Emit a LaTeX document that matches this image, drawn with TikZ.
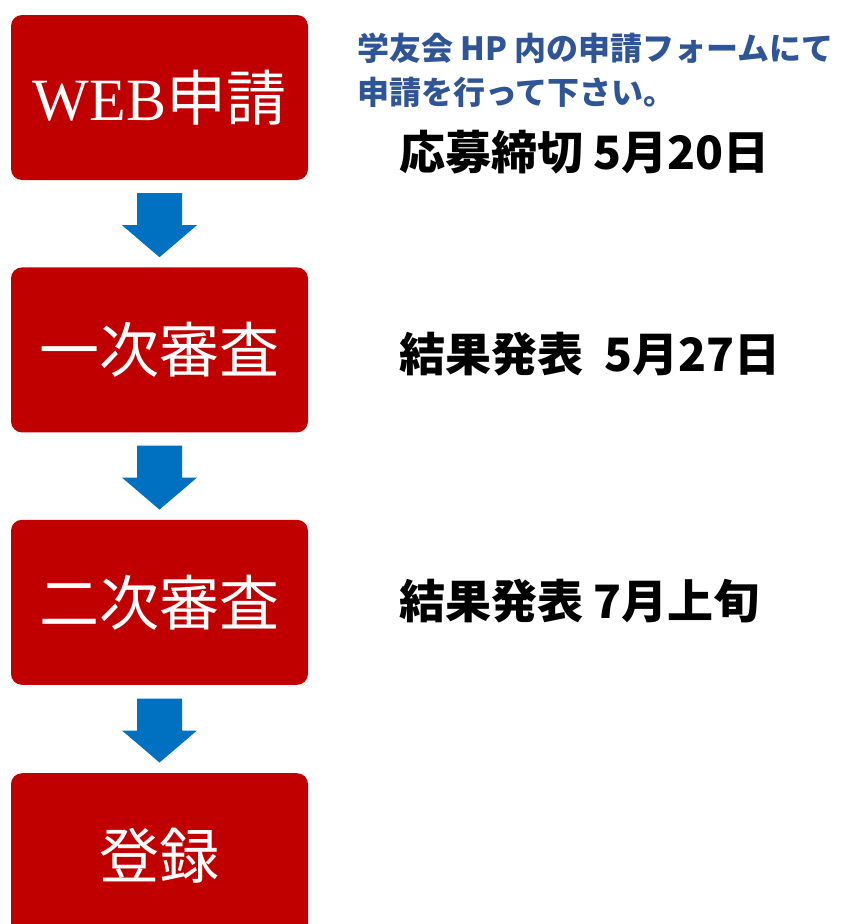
\documentclass[tikz,border=0pt]{standalone}
\usepackage{fontspec}
\newfontfamily\jpfont{Noto Sans CJK JP}
\newfontfamily\serifwest{Liberation Serif}
\usepackage{tikz}
\usetikzlibrary{positioning, calc}

\definecolor{boxred}{HTML}{C00000}
\definecolor{arrowblue}{HTML}{0070C0}
\definecolor{noteblue}{HTML}{2F5597}

\begin{document}
\begin{tikzpicture}[
    x = 1pt, y = 1pt,
    node distance = 87pt,
    stepbox/.style = {fill=boxred, rounded corners=11pt, inner sep=0pt,
      minimum width=297pt, minimum height=165pt,
      text=white, font=\jpfont\fontsize{60}{64}\selectfont},
    datetext/.style = {anchor=west, inner sep=0pt,
      font=\jpfont\bfseries\fontsize{46}{50}\selectfont},
    flowarrow/.pic = {
      \fill[arrowblue] (-22.5,32) -- (22.5,32) -- (22.5,0) -- (37.5,0)
        -- (0,-32) -- (-37.5,0) -- (-22.5,0) -- cycle;
    }
  ]
  \clip (0,0) rectangle (841,-924);

  % steps
  \node[stepbox] (web)    at (159.5,-97.5) {{\serifwest WEB}申請};
  \node[stepbox, below = of web]    (first)  {一次審査};
  \node[stepbox, below = of first]  (second) {二次審査};
  \node[stepbox, below = 88pt of second] (entry)  {登録};

  % arrows between steps
  \pic at ($(web.south)!0.5!(first.north)+(0,-1.5)$)     {flowarrow};
  \pic at ($(first.south)!0.5!(second.north)+(0,-1.5)$)  {flowarrow};
  \pic at ($(second.south)!0.5!(entry.north)+(0,-1.5)$)  {flowarrow};

  % notes
  \node[anchor=west, inner sep=0pt, align=left, text=noteblue,
    font=\jpfont\bfseries\fontsize{32}{44}\selectfont] (note) at (357,-70)
    {学友会 HP 内の申請フォームにて\\申請を行って下さい。};
  \node[datetext] (deadline) at (399,-152) {応募締切 5月20日};
  \node[datetext] (result1)  at (399,-354) {結果発表\ \ 5月27日};
  \node[datetext] (result2)  at (399,-601) {結果発表 7月上旬};

\end{tikzpicture}
\end{document}
